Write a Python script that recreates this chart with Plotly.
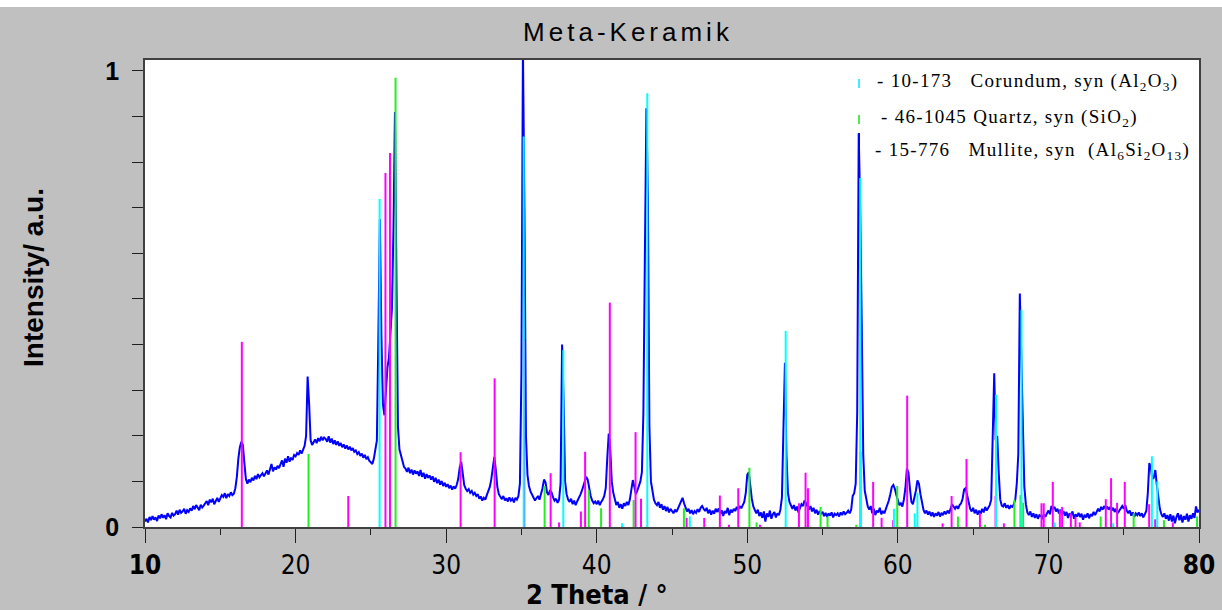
import numpy as np
import plotly.graph_objects as go

# ---------------- data ----------------
TWO_THETA_START = 10.0
TWO_THETA_STEP = 0.1

intensity_rows = [
    [0.012, 0.018, 0.010, 0.022, 0.015, 0.024, 0.016, 0.021, 0.013, 0.025],  # 10
    [0.019, 0.028, 0.020, 0.026, 0.017, 0.030, 0.024, 0.021, 0.031, 0.025],  # 11
    [0.028, 0.036, 0.027, 0.038, 0.031, 0.034, 0.040, 0.029, 0.037, 0.033],  # 12
    [0.041, 0.036, 0.046, 0.039, 0.048, 0.042, 0.037, 0.049, 0.043, 0.047],  # 13
    [0.051, 0.057, 0.048, 0.060, 0.054, 0.062, 0.050, 0.058, 0.064, 0.055],  # 14
    [0.061, 0.070, 0.066, 0.074, 0.063, 0.072, 0.068, 0.076, 0.070, 0.073],  # 15
    [0.085, 0.110, 0.150, 0.175, 0.187, 0.180, 0.140, 0.105, 0.095, 0.104],  # 16
    [0.098, 0.108, 0.102, 0.112, 0.105, 0.116, 0.109, 0.113, 0.118, 0.111],  # 17
    [0.119, 0.124, 0.115, 0.128, 0.138, 0.122, 0.131, 0.126, 0.134, 0.129],  # 18
    [0.137, 0.146, 0.132, 0.150, 0.141, 0.155, 0.143, 0.152, 0.147, 0.158],  # 19
    [0.155, 0.162, 0.158, 0.168, 0.161, 0.172, 0.178, 0.200, 0.330, 0.270],  # 20
    [0.190, 0.180, 0.186, 0.192, 0.184, 0.195, 0.188, 0.198, 0.190, 0.196],  # 21
    [0.193, 0.187, 0.199, 0.185, 0.194, 0.182, 0.190, 0.180, 0.188, 0.178],  # 22
    [0.184, 0.175, 0.181, 0.172, 0.179, 0.170, 0.176, 0.168, 0.173, 0.165],  # 23
    [0.168, 0.160, 0.164, 0.156, 0.161, 0.152, 0.158, 0.149, 0.153, 0.145],  # 24
    [0.142, 0.138, 0.150, 0.175, 0.190, 0.420, 0.675, 0.420, 0.270, 0.245],  # 25
    [0.300, 0.350, 0.370, 0.440, 0.480, 0.650, 0.910, 0.550, 0.220, 0.170],  # 26
    [0.155, 0.140, 0.132, 0.128, 0.121, 0.130, 0.118, 0.126, 0.115, 0.124],  # 27
    [0.117, 0.122, 0.112, 0.125, 0.110, 0.119, 0.106, 0.116, 0.108, 0.113],  # 28
    [0.104, 0.111, 0.099, 0.108, 0.096, 0.104, 0.093, 0.101, 0.090, 0.097],  # 29
    [0.088, 0.094, 0.085, 0.091, 0.082, 0.089, 0.084, 0.092, 0.105, 0.130],  # 30
    [0.143, 0.118, 0.092, 0.084, 0.079, 0.083, 0.075, 0.079, 0.071, 0.075],  # 31
    [0.068, 0.072, 0.062, 0.067, 0.058, 0.064, 0.060, 0.070, 0.078, 0.088],  # 32
    [0.105, 0.135, 0.154, 0.125, 0.088, 0.072, 0.066, 0.061, 0.068, 0.058],  # 33
    [0.063, 0.056, 0.065, 0.058, 0.062, 0.054, 0.064, 0.060, 0.068, 0.095],  # 34
    [0.340, 1.050, 0.700, 0.200, 0.115, 0.090, 0.078, 0.071, 0.066, 0.058],  # 35
    [0.063, 0.068, 0.060, 0.072, 0.085, 0.104, 0.098, 0.076, 0.070, 0.081],  # 36
    [0.076, 0.065, 0.058, 0.062, 0.053, 0.060, 0.095, 0.400, 0.280, 0.100],  # 37
    [0.072, 0.060, 0.055, 0.062, 0.050, 0.058, 0.048, 0.056, 0.062, 0.070],  # 38
    [0.078, 0.088, 0.098, 0.110, 0.104, 0.082, 0.068, 0.058, 0.052, 0.056],  # 39
    [0.050, 0.058, 0.048, 0.055, 0.060, 0.068, 0.085, 0.150, 0.205, 0.170],  # 40
    [0.100, 0.075, 0.060, 0.048, 0.055, 0.042, 0.050, 0.040, 0.052, 0.046],  # 41
    [0.055, 0.048, 0.060, 0.078, 0.103, 0.088, 0.072, 0.080, 0.088, 0.100],  # 42
    [0.120, 0.250, 0.600, 0.918, 0.720, 0.220, 0.100, 0.075, 0.060, 0.052],  # 43
    [0.048, 0.055, 0.042, 0.050, 0.038, 0.046, 0.035, 0.044, 0.032, 0.040],  # 44
    [0.036, 0.030, 0.038, 0.033, 0.041, 0.048, 0.058, 0.064, 0.052, 0.040],  # 45
    [0.034, 0.040, 0.030, 0.037, 0.028, 0.035, 0.031, 0.039, 0.033, 0.042],  # 46
    [0.046, 0.040, 0.035, 0.042, 0.030, 0.038, 0.027, 0.036, 0.029, 0.040],  # 47
    [0.033, 0.041, 0.028, 0.037, 0.024, 0.035, 0.030, 0.042, 0.026, 0.038],  # 48
    [0.032, 0.040, 0.035, 0.044, 0.038, 0.046, 0.041, 0.048, 0.055, 0.075],  # 49
    [0.115, 0.120, 0.085, 0.062, 0.045, 0.036, 0.030, 0.038, 0.024, 0.032],  # 50
    [0.020, 0.034, 0.012, 0.030, 0.022, 0.036, 0.018, 0.028, 0.033, 0.021],  # 51
    [0.030, 0.026, 0.038, 0.065, 0.200, 0.360, 0.160, 0.075, 0.055, 0.045],  # 52
    [0.040, 0.048, 0.036, 0.045, 0.032, 0.042, 0.050, 0.046, 0.058, 0.052],  # 53
    [0.045, 0.038, 0.046, 0.034, 0.042, 0.030, 0.038, 0.027, 0.035, 0.029],  # 54
    [0.033, 0.024, 0.031, 0.022, 0.030, 0.025, 0.032, 0.021, 0.029, 0.026],  # 55
    [0.030, 0.023, 0.032, 0.026, 0.034, 0.028, 0.031, 0.036, 0.030, 0.038],  # 56
    [0.068, 0.074, 0.095, 0.250, 0.863, 0.700, 0.450, 0.160, 0.080, 0.058],  # 57
    [0.045, 0.038, 0.046, 0.030, 0.040, 0.026, 0.036, 0.032, 0.042, 0.028],  # 58
    [0.035, 0.030, 0.040, 0.046, 0.058, 0.072, 0.088, 0.092, 0.084, 0.070],  # 59
    [0.058, 0.048, 0.052, 0.045, 0.060, 0.085, 0.128, 0.120, 0.085, 0.055],  # 60
    [0.050, 0.062, 0.080, 0.102, 0.095, 0.072, 0.050, 0.038, 0.030, 0.036],  # 61
    [0.027, 0.034, 0.024, 0.032, 0.022, 0.030, 0.025, 0.033, 0.023, 0.031],  # 62
    [0.026, 0.034, 0.028, 0.036, 0.030, 0.038, 0.050, 0.045, 0.040, 0.046],  # 63
    [0.040, 0.048, 0.052, 0.062, 0.082, 0.085, 0.070, 0.048, 0.040, 0.034],  # 64
    [0.042, 0.030, 0.038, 0.027, 0.036, 0.029, 0.040, 0.032, 0.044, 0.036],  # 65
    [0.042, 0.048, 0.060, 0.190, 0.337, 0.190, 0.200, 0.118, 0.060, 0.047],  # 66
    [0.045, 0.052, 0.042, 0.048, 0.040, 0.046, 0.044, 0.050, 0.060, 0.096],  # 67
    [0.160, 0.512, 0.380, 0.280, 0.088, 0.050, 0.032, 0.026, 0.034, 0.022],  # 68
    [0.030, 0.020, 0.028, 0.018, 0.026, 0.024, 0.020, 0.028, 0.022, 0.030],  # 69
    [0.036, 0.028, 0.046, 0.040, 0.044, 0.034, 0.040, 0.030, 0.038, 0.027],  # 70
    [0.035, 0.025, 0.033, 0.020, 0.030, 0.026, 0.034, 0.018, 0.028, 0.023],  # 71
    [0.031, 0.022, 0.029, 0.016, 0.027, 0.021, 0.030, 0.019, 0.028, 0.024],  # 72
    [0.033, 0.026, 0.035, 0.040, 0.034, 0.044, 0.038, 0.046, 0.040, 0.045],  # 73
    [0.038, 0.044, 0.036, 0.042, 0.033, 0.040, 0.030, 0.036, 0.042, 0.046],  # 74
    [0.040, 0.048, 0.036, 0.030, 0.036, 0.025, 0.032, 0.022, 0.030, 0.026],  # 75
    [0.032, 0.024, 0.030, 0.021, 0.028, 0.035, 0.074, 0.140, 0.130, 0.105],  # 76
    [0.108, 0.125, 0.092, 0.063, 0.040, 0.028, 0.022, 0.030, 0.018, 0.026],  # 77
    [0.014, 0.028, 0.012, 0.025, 0.008, 0.022, 0.030, 0.015, 0.027, 0.010],  # 78
    [0.024, 0.016, 0.029, 0.012, 0.026, 0.018, 0.030, 0.020, 0.045, 0.032],  # 79
]
intensity_last = 0.038  # at 80.0

# reference patterns (stick positions in 2 theta, relative heights)
corundum_2theta = [25.58, 35.15, 37.78, 41.68, 43.36, 46.18, 52.55, 57.50, 59.74,
                   61.12, 61.30, 66.52, 68.21, 70.42, 74.30, 76.87, 77.23]
corundum_int = [0.719, 0.856, 0.388, 0.008, 0.951, 0.023, 0.430, 0.765, 0.040,
                0.030, 0.075, 0.290, 0.476, 0.010, 0.008, 0.155, 0.100]

quartz_2theta = [20.86, 26.64, 36.54, 39.47, 40.29, 42.45, 45.79, 50.14, 50.62, 54.87,
                 55.33, 57.24, 59.96, 63.99, 65.79, 67.74, 68.14, 68.32, 73.47, 75.66,
                 77.67, 79.87]
quartz_int = [0.160, 0.985, 0.090, 0.081, 0.041, 0.059, 0.041, 0.130, 0.010, 0.044,
              0.023, 0.005, 0.090, 0.023, 0.005, 0.060, 0.070, 0.053, 0.023, 0.030,
              0.015, 0.023]

mullite_2theta = [16.43, 23.50, 25.97, 26.27, 30.96, 33.22, 35.19, 36.94, 37.50, 38.95,
                  39.23, 40.87, 42.58, 42.94, 45.97, 47.14, 48.18, 48.78, 49.40, 50.84,
                  53.43, 53.87, 54.03, 57.52, 58.36, 58.92, 59.69, 60.62, 62.97, 63.57,
                  64.56, 65.45, 66.49, 67.04, 69.54, 69.69, 70.29, 70.76, 70.91, 71.49,
                  71.80, 72.08, 73.81, 74.16, 74.56, 75.07, 76.69, 77.09, 78.26]
mullite_int = [0.406, 0.068, 0.776, 0.820, 0.164, 0.326, 0.408, 0.118, 0.010, 0.034,
               0.165, 0.492, 0.208, 0.062, 0.020, 0.020, 0.069, 0.005, 0.085, 0.005,
               0.052, 0.119, 0.085, 0.165, 0.099, 0.020, 0.015, 0.288, 0.008, 0.068,
               0.149, 0.030, 0.068, 0.008, 0.052, 0.052, 0.099, 0.037, 0.044, 0.030,
               0.022, 0.010, 0.061, 0.107, 0.053, 0.099, 0.050, 0.017, 0.010]

x_tick_values = [10, 20, 30, 40, 50, 60, 70, 80]
x_tick_text = ["<b>10</b>", "20", "30", "40", "50", "60", "70", "<b>80</b>"]
x_minor_values = [15, 25, 35, 45, 55, 65, 75]
y_tick_values = [0, 1.0]
y_tick_text = ["<b>0</b>", "<b>1</b>"]
y_minor_values = [0.1, 0.2, 0.3, 0.4, 0.5, 0.6, 0.7, 0.8, 0.9]

legend_entries = [
    ("- 10-173   Corundum, syn (Al<sub>2</sub>O<sub>3</sub>)", "#00e8ff", "dash"),
    ("- 46-1045 Quartz, syn (SiO<sub>2</sub>)", "#22dd22", "dash"),
    ("- 15-776   Mullite, syn  (Al<sub>6</sub>Si<sub>2</sub>O<sub>13</sub>)", "#0000ff", "solid"),
]

# ---------------- build ----------------
intensity = [v for row in intensity_rows for v in row] + [intensity_last]
two_theta = np.round(TWO_THETA_START + TWO_THETA_STEP * np.arange(len(intensity)), 2)


def sticks(xs, hs):
    X, Y = [], []
    for x, h in zip(xs, hs):
        X += [x, x, None]
        Y += [0, h, None]
    return X, Y


fig = go.Figure()
fig.add_trace(go.Scatter(x=two_theta, y=intensity, mode="lines",
                         line=dict(color="#0000ff", width=2), name="Meta-Keramik",
                         showlegend=False))
for xs, hs, col, nm in [(quartz_2theta, quartz_int, "#22ee22", "Quartz"),
                        (mullite_2theta, mullite_int, "#ff00ff", "Mullite"),
                        (corundum_2theta, corundum_int, "#00ffff", "Corundum")]:
    X, Y = sticks(xs, hs)
    fig.add_trace(go.Scatter(x=X, y=Y, mode="lines", line=dict(color=col, width=2),
                             name=nm, showlegend=False))

L, R, T, B = 145, 23, 60, 83
W, H = 1222, 610
pw, ph = W - L - R, H - T - B


def px_x(px):
    return (px - L) / pw


def px_y(py):
    return (H - B - py) / ph


narrow = "Liberation Sans Narrow, Arial Narrow, DejaVu Sans Condensed, Liberation Sans, Arial"
sans = "Liberation Sans, Arial, Helvetica, sans-serif"
serif = "Liberation Serif, Times New Roman, serif"

annotations = [
    dict(text="<b>Intensity/ a.u.</b>", xref="paper", yref="paper", x=px_x(33), y=px_y(278),
         textangle=-90, showarrow=False, font=dict(family=sans, size=28, color="black"),
         xanchor="center", yanchor="middle"),
    dict(text="<b>2 Theta / °</b>", xref="paper", yref="paper", x=px_x(597), y=px_y(594),
         showarrow=False, font=dict(family=narrow, size=27, color="black"),
         xanchor="center", yanchor="middle"),
]
shapes = [
    dict(type="rect", xref="paper", yref="paper", x0=px_x(0), x1=px_x(W), y0=px_y(7), y1=px_y(0),
         fillcolor="white", line=dict(width=0), layer="below"),
]
leg_text_pos = [(875, 82), (879, 118), (873, 151)]
leg_mark_pos = [(72, 88), (108, 124), (133, 170)]
for (txt, col, dash), (tx, ty), (m0, m1) in zip(legend_entries, leg_text_pos, leg_mark_pos):
    annotations.append(dict(text=txt, xref="paper", yref="paper", x=px_x(tx), y=px_y(ty),
                            showarrow=False, xanchor="left", yanchor="middle", align="left",
                            font=dict(family=serif, size=19, color="black")))
    shapes.append(dict(type="line", xref="paper", yref="paper", x0=px_x(859), x1=px_x(859),
                       y0=px_y(m1), y1=px_y(m0),
                       line=dict(color=col, width=2 if dash == "solid" else 1.5, dash=dash)))

fig.update_layout(
    width=W, height=H,
    margin=dict(l=L, r=R, t=T, b=B, pad=0, autoexpand=False),
    paper_bgcolor="#c0c0c0", plot_bgcolor="white",
    title=dict(text="Meta-Keramik", x=px_x(628), xref="paper", xanchor="center",
               y=1 - 32 / H, yref="container", yanchor="middle",
               font=dict(family=sans, size=26, color="black")),
    xaxis=dict(range=[10, 80], showgrid=False, zeroline=False, showline=True,
               linecolor="#404040", linewidth=1.5, mirror=True, automargin=False,
               ticks="outside", ticklen=14, tickwidth=1, tickcolor="#202020",
               tickmode="array", tickvals=x_tick_values, ticktext=x_tick_text,
               tickfont=dict(family=narrow, size=26, color="black"),
               minor=dict(tickmode="array", tickvals=x_minor_values, ticks="outside",
                          ticklen=6, tickwidth=1, tickcolor="#202020", showgrid=False)),
    yaxis=dict(range=[0, 1.024], showgrid=False, zeroline=False, showline=True,
               linecolor="#404040", linewidth=1.5, mirror=True, automargin=False,
               ticks="outside", ticklen=11, tickwidth=1, tickcolor="#202020",
               tickmode="array", tickvals=y_tick_values, ticktext=y_tick_text,
               tickfont=dict(family=sans, size=25, color="black"), ticklabelstandoff=8,
               minor=dict(tickmode="array", tickvals=y_minor_values, ticks="outside",
                          ticklen=11, tickwidth=1, tickcolor="#202020", showgrid=False)),
    annotations=annotations, shapes=shapes,
    showlegend=False,
)

post = """
var gd = document.getElementById('{plot_id}');
gd.querySelectorAll('.gtitle').forEach(function(t){ t.style.letterSpacing = '4px'; });
gd.querySelectorAll('.annotation-text').forEach(function(t){
  if (t.textContent.indexOf('syn') >= 0) { t.style.letterSpacing = '1.3px'; }
});
"""
fig.write_html("out.html", post_script=post)
